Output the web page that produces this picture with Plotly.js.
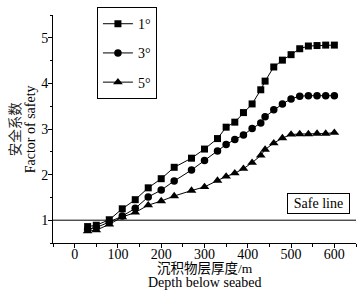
<!DOCTYPE html>
<html>
<head>
<meta charset="utf-8">
<script src="https://cdn.plot.ly/plotly-3.0.1.min.js"></script>
<style>html,body{margin:0;padding:0;background:#fff;}#chart{width:364px;height:294px;}</style>
</head>
<body>
<div id="chart"></div>
<script>
const depth = [30, 50, 80, 110, 140, 170, 200, 230, 270, 300, 330, 350, 370, 390, 410, 430, 440, 460, 480, 500, 520, 540, 560, 580, 600];
const fos1 = [0.86, 0.89, 1.01, 1.25, 1.45, 1.71, 1.91, 2.16, 2.36, 2.56, 2.79, 3.04, 3.15, 3.36, 3.55, 3.86, 4.05, 4.36, 4.51, 4.63, 4.76, 4.82, 4.83, 4.84, 4.84];
const fos3 = [0.80, 0.84, 0.96, 1.09, 1.26, 1.51, 1.66, 1.86, 2.10, 2.31, 2.52, 2.66, 2.77, 2.87, 3.01, 3.13, 3.27, 3.42, 3.55, 3.66, 3.72, 3.73, 3.73, 3.73, 3.73];
const fos5 = [0.76, 0.78, 0.91, 1.07, 1.17, 1.33, 1.42, 1.53, 1.65, 1.73, 1.87, 1.96, 2.03, 2.13, 2.26, 2.42, 2.55, 2.69, 2.80, 2.88, 2.89, 2.89, 2.90, 2.90, 2.92];
const seriesNames = ['1°', '3°', '5°'];
const symbols = ['square', 'circle', 'triangle-up'];
const safeValue = 1;

const serif = 'Liberation Serif, Times New Roman, Noto Sans CJK SC, serif';
const sizes = [7, 7.5, 8.5];
const traces = [fos1, fos3, fos5].map((ys, i) => ({
  x: depth, y: ys, type: 'scatter', mode: 'lines+markers',
  name: seriesNames[i], legendgroup: 'g' + i,
  line: {color: '#000', width: 1},
  marker: {symbol: symbols[i], size: sizes[i], color: '#000'}
}));

const layout = {
  width: 364, height: 294,
  margin: {l: 53, r: 8, t: 14, b: 51},
  paper_bgcolor: '#fff', plot_bgcolor: '#fff',
  font: {family: serif, color: '#000', size: 13},
  showlegend: true,
  legend: {
    x: 0.145, y: 1.03, xanchor: 'left', yanchor: 'top',
    bordercolor: '#000', borderwidth: 1, bgcolor: '#fff',
    font: {family: serif, size: 14, color: '#000'},
    traceorder: 'grouped', tracegroupgap: 8
  },
  xaxis: {
    range: [-50, 650], showgrid: false, zeroline: false,
    showline: true, linecolor: '#000', linewidth: 1,
    ticks: 'outside', ticklen: 4, tickcolor: '#000', dtick: 100, tick0: 0,
    minor: {dtick: 50, tick0: 0, ticks: 'outside', ticklen: 2.5, tickcolor: '#000'},
    tickfont: {family: serif, size: 14}, ticklabelstandoff: -6
  },
  yaxis: {
    range: [0.5, 5.5], showgrid: false, zeroline: false,
    showline: true, linecolor: '#000', linewidth: 1,
    ticks: 'outside', ticklen: 4, tickcolor: '#000', dtick: 1, tick0: 0,
    minor: {dtick: 0.5, tick0: 0, ticks: 'outside', ticklen: 2.5, tickcolor: '#000'},
    tickfont: {family: serif, size: 14}, ticklabelstandoff: -3
  },
  shapes: [{
    type: 'line', xref: 'paper', x0: 0, x1: 1, yref: 'y', y0: safeValue, y1: safeValue,
    line: {color: '#000', width: 1}
  }],
  annotations: [
    {text: 'Safe line', xref: 'x', yref: 'y', x: 564, y: 1.37, showarrow: false,
     font: {family: serif, size: 14}, bordercolor: '#000', borderwidth: 1, borderpad: 2, bgcolor: '#fff', width: 57},
    {text: '沉积物层厚度/m', xref: 'paper', yref: 'paper', x: 0.5, y: -0.112, yanchor: 'middle', showarrow: false,
     font: {family: serif, size: 13.5}},
    {text: 'Depth below seabed', xref: 'paper', yref: 'paper', x: 0.5, y: -0.175, yanchor: 'middle', showarrow: false,
     font: {family: serif, size: 14}},
    {text: '安全系数', xref: 'paper', yref: 'paper', x: -0.125, y: 0.5, xanchor: 'center', textangle: -90, showarrow: false,
     font: {family: serif, size: 13.5, color: '#222'}},
    {text: 'Factor of safety', xref: 'paper', yref: 'paper', x: -0.075, y: 0.5, xanchor: 'center', textangle: -90, showarrow: false,
     font: {family: serif, size: 14}}
  ]
};

Plotly.newPlot('chart', traces, layout, {displayModeBar: false, staticPlot: true});
</script>
</body>
</html>
